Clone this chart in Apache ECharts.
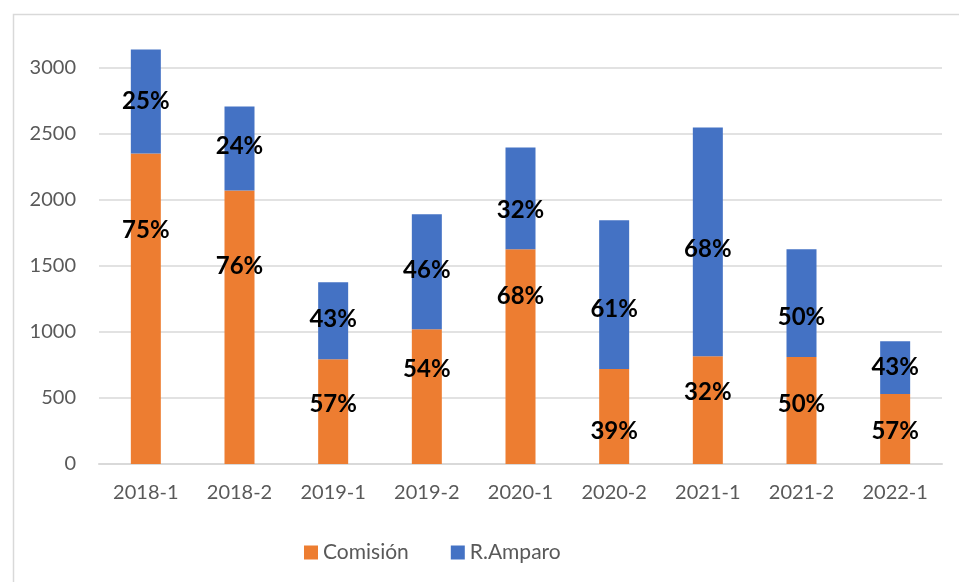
<!DOCTYPE html>
<html>
<head>
<meta charset="utf-8">
<script src="https://cdn.jsdelivr.net/npm/echarts@6/dist/echarts.min.js"></script>
<style>
  html, body { margin: 0; padding: 0; background: #fff; }
  #chart { width: 959px; height: 582px; }
</style>
</head>
<body>
<div id="chart"></div>
<script>
// datos
var categorias = ['2018-1', '2018-2', '2019-1', '2019-2', '2020-1', '2020-2', '2021-1', '2021-2', '2022-1'];
var comision = [2350, 2070, 793, 1020, 1625, 718, 816, 809, 529];
var amparo = [786, 635, 582, 869, 770, 1126, 1731, 816, 400];
var pctComision = ['75%', '76%', '57%', '54%', '68%', '39%', '32%', '50%', '57%'];
var pctAmparo = ['25%', '24%', '43%', '46%', '32%', '61%', '68%', '50%', '43%'];
var yTicks = [0, 500, 1000, 1500, 2000, 2500, 3000];

// desplazamiento vertical de cada etiqueta (px), como en el original
var shiftComision = [-78, -61, -7, -27, -60, 15, -18, -6, 2];
var shiftAmparo = [0, -2, -1, -2, 12, 15, 7, 14, 0];

var gris = '#595959';
var lblStyle = { show: true, position: 'inside', color: '#000', fontFamily: 'Lato', fontWeight: 'bold', fontSize: 24 };

function serieDatos(vals, shifts) {
  return vals.map(function (v, i) {
    return { value: v, label: { offset: [0, shifts[i]] } };
  });
}

var myChart = echarts.init(document.getElementById('chart'));
var option = {
  animation: false,
  graphic: [{
    type: 'rect', left: 11, top: 12,
    shape: { width: 1000, height: 1000 },
    style: { fill: 'none', stroke: '#d9d9d9', lineWidth: 1.5 },
    silent: true
  }],
  grid: { left: 99, right: 17, top: 12, bottom: 118 },
  legend: {
    top: 537, left: 299, itemWidth: 14, itemHeight: 14, itemGap: 42,
    icon: 'rect',
    textStyle: { color: gris, fontFamily: 'Lato', fontSize: 21 },
    data: ['Comisión', 'R.Amparo']
  },
  xAxis: {
    type: 'category', data: categorias,
    axisTick: { show: false },
    axisLine: { lineStyle: { color: '#d9d9d9', width: 2 } },
    axisLabel: { color: gris, fontFamily: 'Lato', fontSize: 20, margin: 19 }
  },
  yAxis: {
    type: 'value', min: 0, max: 3420, interval: 500,
    axisLabel: {
      color: gris, fontFamily: 'Lato', fontSize: 20, margin: 23, showMaxLabel: false,
      formatter: function (v) { return yTicks.indexOf(v) >= 0 ? String(v) : ''; }
    },
    axisLine: { show: false }, axisTick: { show: false },
    splitLine: { showMaxLine: false, lineStyle: { color: '#d9d9d9', width: 1.5 } }
  },
  series: [{
    name: 'Comisión', type: 'bar', stack: 'total', barWidth: 30,
    itemStyle: { color: '#ED7D31' },
    label: Object.assign({}, lblStyle, { formatter: function (p) { return pctComision[p.dataIndex]; } }),
    data: serieDatos(comision, shiftComision)
  }, {
    name: 'R.Amparo', type: 'bar', stack: 'total', barWidth: 30,
    itemStyle: { color: '#4472C4' },
    label: Object.assign({}, lblStyle, { formatter: function (p) { return pctAmparo[p.dataIndex]; } }),
    data: serieDatos(amparo, shiftAmparo)
  }]
};
myChart.setOption(option);
</script>
</body>
</html>
